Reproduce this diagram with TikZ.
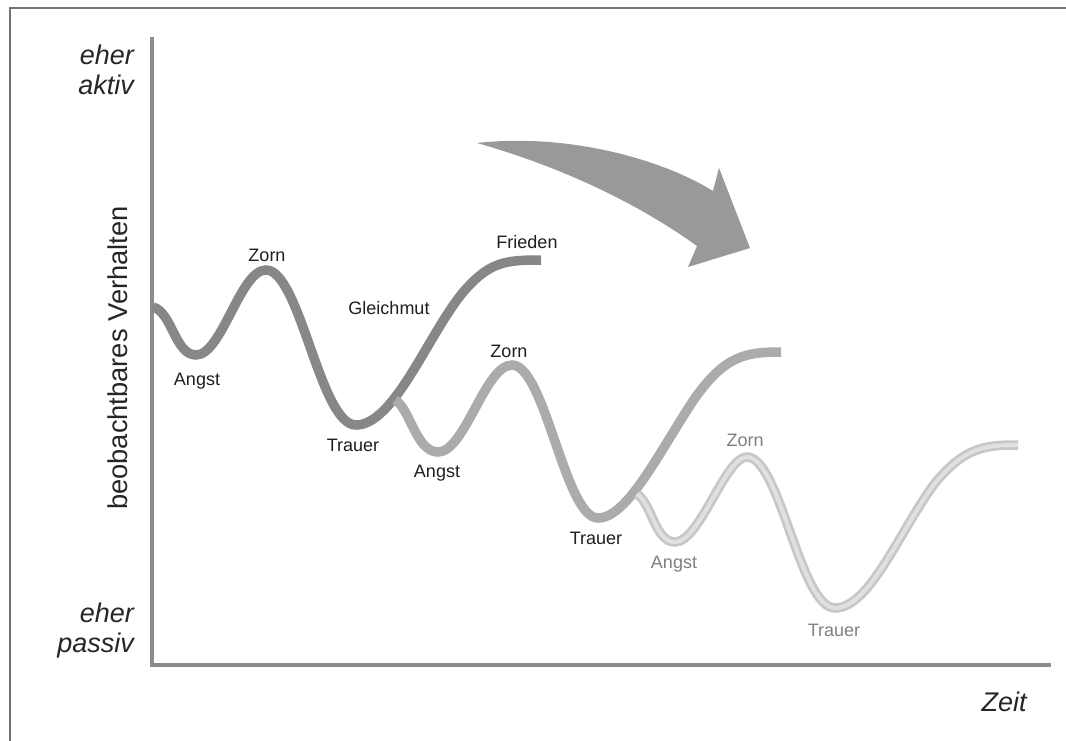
\documentclass[tikz,border=0pt]{standalone}
\usepackage{fontspec}
\setmainfont{Liberation Sans}
\begin{document}
\begin{tikzpicture}[x=1pt,y=-1pt,
  frameline/.style={draw=black!55,line width=1.6pt},
  axisline/.style={draw=black!45,line width=4pt},
  phase1/.style={draw=black!47,line width=9.5pt,line cap=butt},
  phase2/.style={draw=black!33,line width=9.5pt,line cap=butt},
  phase3/.style={draw=black!22,line width=9.5pt,line cap=butt},
  phase3core/.style={draw=black!12,line width=4pt,line cap=butt},
  emo/.style={font=\fontsize{18}{20}\selectfont,text=black!88,inner sep=0pt},
  emofaint/.style={emo,text=black!50},
  axlabel/.style={font=\fontsize{27}{30}\selectfont\itshape,text=black!85,inner sep=0pt,align=right},
  bigarrow/.style={fill=black!40,draw=none}]
\useasboundingbox (0,0) rectangle (1066,741);
\fill[white] (0,0) rectangle (1066,741);

% outer frame (top and left edges)
\coordinate (fTL) at (10,8);
\coordinate (fTR) at (1066,8);
\coordinate (fBL) at (10,741);
\draw[frameline] (fTR) -- (fTL) -- (fBL);

% axes
\coordinate (yTop) at (152,37);
\coordinate (orig) at (152,665);
\coordinate (xEnd) at (1051,665);
\draw[axisline] (yTop) -- (orig) -- (xEnd);

% axis texts
\node[axlabel,anchor=east] (aktiv) at (134,70) {eher\\aktiv};
\node[axlabel,anchor=east] (passiv) at (134,631) {eher\\passiv};
\node[axlabel,anchor=center] (zeit) at (1004,702) {Zeit};
\node[font=\fontsize{27.3}{30}\selectfont,text=black!85,rotate=90,inner sep=0pt] (verh) at (118,358) {beobachtbares Verhalten};

% big curved arrow
\path[bigarrow] (477,143) .. controls (565,133) and (660,158) .. (713,191)
  -- (719,168) -- (750,248) -- (688,267) -- (697,246)
  .. controls (640,205) and (565,168) .. (477,143) -- cycle;

% first cycle
\draw[phase1] (153,307) .. controls (172,312) and (175,355) .. (196,355)
  .. controls (222,355) and (240,270) .. (266,270)
  .. controls (300,270) and (320,425) .. (356,425)
  .. controls (395,425) and (430,330) .. (465,290)
  .. controls (490,262) and (505,260) .. (541,260);

% second cycle
\draw[phase2] (395,400) .. controls (410,408) and (416,452) .. (438,452)
  .. controls (465,452) and (485,365) .. (512,365)
  .. controls (545,365) and (565,518) .. (598,518)
  .. controls (628,518) and (660,450) .. (695,398)
  .. controls (725,356) and (745,352) .. (781,352);

% third cycle
\path[phase3,postaction={phase3core}] (637,494) .. controls (652,504) and (655,542) .. (675,542)
  .. controls (700,542) and (725,457) .. (747,457)
  .. controls (780,457) and (800,608) .. (835,608)
  .. controls (870,608) and (900,530) .. (935,483)
  .. controls (965,447) and (985,445) .. (1018,445);

% labels of the first cycle
\node[emo] (zorn1) at (267,255) {Zorn};
\node[emo] (angst1) at (197,381) {Angst};
\node[emo] (trauer1) at (353,445) {Trauer};
\node[emo] (gleich) at (389,308) {Gleichmut};
\node[emo] (frieden) at (527,242) {Frieden};

% labels of the second cycle
\node[emo] (zorn2) at (509,351) {Zorn};
\node[emo] (angst2) at (437,473) {Angst};
\node[emo] (trauer2) at (596,538) {Trauer};

% labels of the third cycle
\node[emofaint] (zorn3) at (745,440) {Zorn};
\node[emofaint] (angst3) at (674,564) {Angst};
\node[emofaint] (trauer3) at (834,630) {Trauer};
\end{tikzpicture}
\end{document}
